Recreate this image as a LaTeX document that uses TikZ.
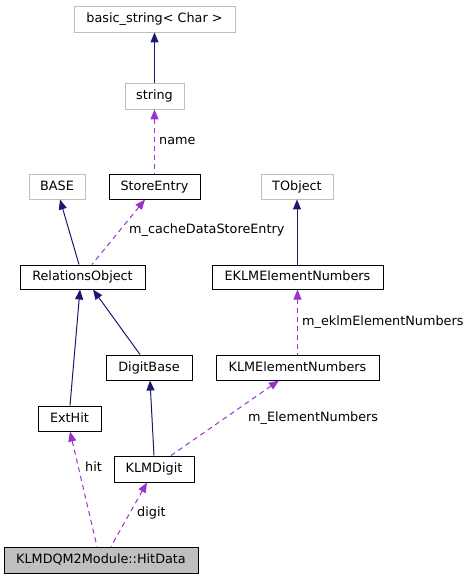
\documentclass[tikz,border=0pt]{standalone}
\usepackage{fontspec}
\setmainfont{DejaVu Sans}
\usetikzlibrary{arrows.meta}
\definecolor{navyedge}{HTML}{191970}
\definecolor{purpedge}{HTML}{9A32CD}
\definecolor{extgray}{HTML}{BFBFBF}
\begin{document}
\begin{tikzpicture}[x=1pt,y=-1pt,
  font=\fontsize{12.8}{15}\selectfont,
  cls/.style={draw=black,line width=1pt,inner sep=0pt,text height=9.5pt,text depth=2.5pt,fill=white},
  extcls/.style={draw=extgray,line width=0.9pt,inner sep=0pt,text height=9.5pt,text depth=2.5pt,fill=white},
  inh/.style={draw=navyedge,line width=1pt,{Triangle[length=10pt,width=8pt]}-},
  use/.style={draw=purpedge,line width=1pt,dash pattern=on 5pt off 4pt,{Triangle[length=10pt,width=8pt]}-},
  lbl/.style={anchor=west,inner sep=0pt,text height=9.5pt,text depth=2.5pt}]
\useasboundingbox (0,0) rectangle (473,579);
\node[extcls,minimum width=161pt,minimum height=26pt] (bs) at (154.5,19) {basic\_string< Char >};
\node[extcls,minimum width=59pt,minimum height=26pt] (str) at (154.5,96) {string};
\node[extcls,minimum width=56pt,minimum height=25pt] (base) at (57,186.5) {BASE};
\node[cls,minimum width=91pt,minimum height=25pt] (se) at (154.5,186.5) {StoreEntry};
\node[extcls,minimum width=72pt,minimum height=25pt] (tobj) at (297,186.5) {TObject};
\node[cls,minimum width=125pt,minimum height=24pt] (ro) at (82.5,277) {RelationsObject};
\node[cls,minimum width=171pt,minimum height=24pt] (ekl) at (297.5,277) {EKLMElementNumbers};
\node[cls,minimum width=86pt,minimum height=25pt] (db) at (149,367.5) {DigitBase};
\node[cls,minimum width=163pt,minimum height=25pt] (kle) at (297.5,367.5) {KLMElementNumbers};
\node[cls,minimum width=63pt,minimum height=25pt] (ext) at (69.5,418.5) {ExtHit};
\node[cls,minimum width=80pt,minimum height=26pt] (kd) at (154,469) {KLMDigit};
\node[cls,minimum width=194pt,minimum height=26pt,fill=extgray] (hd) at (101,560) {KLMDQM2Module::HitData};

\draw[inh] (bs.south) -- (str.north);
\draw[use] (str.south) -- (se.north);
\draw[inh] ([xshift=3pt]base.south) -- ([xshift=-3.5pt]ro.north);
\draw[use] ([xshift=-9.5pt]se.south) -- ([xshift=9.5pt]ro.north);
\draw[inh] (tobj.south) -- (tobj.south |- ekl.north);
\draw[use] (ekl.south) -- (kle.north);
\draw[inh] ([xshift=-2.5pt]ro.south) -- ([xshift=0.5pt]ext.north);
\draw[inh] ([xshift=10.5pt]ro.south) -- ([xshift=-9pt]db.north);
\draw[inh] ([xshift=1pt]db.south) -- (kd.north);
\draw[use] ([xshift=-18.5pt]kle.south) -- ([xshift=17pt]kd.north);
\draw[use] ([xshift=0.5pt]ext.south) -- ([xshift=-4pt]hd.north);
\draw[use] ([xshift=-7pt]kd.south) -- ([xshift=10pt]hd.north);

\node[lbl] (lname) at (159,141) {name};
\node[lbl] (lcache) at (129,230) {m\_cacheDataStoreEntry};
\node[lbl] (leklm) at (302,322) {m\_eklmElementNumbers};
\node[lbl] (lelem) at (248,418) {m\_ElementNumbers};
\node[lbl] (lhit) at (85,468) {hit};
\node[lbl] (ldigit) at (137,513) {digit};
\end{tikzpicture}
\end{document}
